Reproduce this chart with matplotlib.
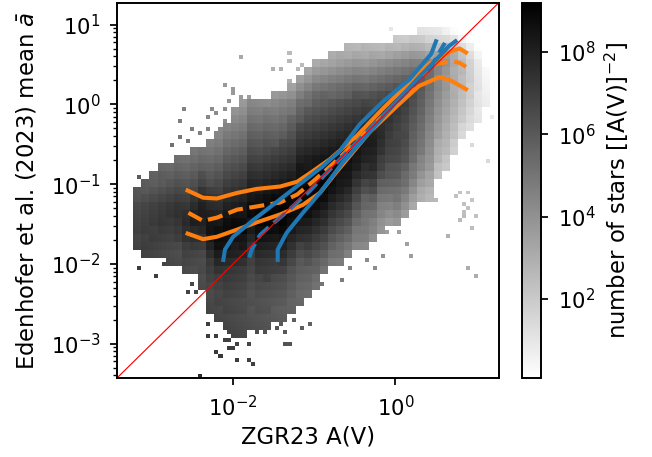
import numpy as np
import matplotlib
matplotlib.use("Agg")
import matplotlib.pyplot as plt
from matplotlib.colors import LogNorm
from matplotlib.ticker import NullLocator

plt.rcParams['font.size'] = 11.7
plt.rcParams['xtick.labelsize'] = 10.9
plt.rcParams['ytick.labelsize'] = 10.9

# histogram, one entry per 0.1 dex column, left to right
# each string goes down the column from row col_top, one char = 0.25 dex of star count
col_top = [0, 0, 23, 22, 21, 20, 20, 19, 19, 18, 18, 17, 16, 15, 13, 12, 12, 12, 12, 11, 11, 10, 9, 8,
           7, 7, 6, 6, 5, 5, 5, 5, 5, 5, 4, 4, 4, 3, 3, 3, 3, 3, 4, 4, 5, 8, 0]
col_levels = [
    "", "",
    "00111100",
    "0012222110",
    "00123332210",
    "011234443210",
    "0123455432100",
    "01234566543100",
    "012345677653210",
    "0123457899764210",
    "1235689aa986421100",
    "012345789abba864321000",
    "0123456789abccb975321100",
    "123456789abcddcb9754321100",
    "0123456789abcdeeca97543211000",
    "0123456789abcddeecb97543211000",
    "3456789abcdeeffdca86543211000",
    "3456789abcdeffggedb9764321100",
    "356789abcdefgghgfdb9765321100",
    "2456789bcdefghhhgfdb976432100",
    "356789bcdefghhiihgeca86432100",
    "24679abcdefghiiihgeca86432100",
    "3579abdefghiijjjihfdb86432100",
    "3579acdefghiijjkjihfdb9753210",
    "3579bcdefghijjkkkjigeca864310",
    "468acdefghijkkllkjhfdb97531",
    "4579bcefghijklllkjhfdb97531",
    "568acdfghijklllkjigeca86431",
    "4579bdeghijklmmlkjhfdb97531",
    "468aceghijklmmlkigeca86431",
    "568acegijklmmlkihec9865431",
    "579bdfhijklmmlkjhfda86431",
    "57acegijklllkjhgeb975421",
    "68bdfhjkllkjihgedb97531",
    "469cegikllkjiihgedb98642",
    "47adfhjllkjiihgfdba8642",
    "58begikkjihgfedca97531",
    "258behjjihgfedcb986421",
    "247aehhgfedcba98764310",
    "247bfeddcba98754310",
    "148cdcbba987654310",
    "036aa99887654310",
    "1478877654310",
    "024555443210",
    "0122221100",
    "00000",
    "",
]

# single stars scattered outside the main body (log10 x, log10 y)
single_logx = [-2.42, -2.22, -2.18, -1.94, -1.8, -1.75, -2.04, -1.99, -1.94, -1.8, -1.36, -1.32, -2.32, -2.22,
               -2.12, -2.04, -2.04, -1.89, -1.71, -1.61, -1.36, -1.18, -1.08, -1.47, -1.4, -1.8, -1.66, -2.32,
               -1.26, -2.98, -3.15, -3.12, -2.88, -2.75, -2.56, -2.47, -2.5, -2.42, -1.51, -1.39, -1.48, -1.14,
               -1.89, -1.33, -1.3, -1.52, -1.42, -1.14, -1.19, -1.33, -1.23, -1.14, -2.09, -1.99, -1.99, -2.04,
               -1.89, -1.8, -2.6, -2.27, -2.12, -2.65, -2.32, -2.22, -2.5, -2.42, -2.18, -2.65, -2.56, -2.32,
               -2.75, -2.1, -3.18, -0.81, -0.56, -0.05, -0.32,
               0.47, 0.76, 0.81, 0.9, 0.95, 0.85, 0.9, 0.85, 0.85, 0.81, 0.99, 0.95, 0.66, 0.15, 0.18, 0.05, 0.0,
               0.9, 0.99, -0.28, -0.58, -0.66, -0.91, -0.38, -0.15, -0.58, -0.1, 1.13, 0.95, 1.03, 1.18, 1.07]
single_logy = [-3.42, -3.12, -3.18, -3.23, -3.23, -3.28, -3.04, -3.08, -2.99, -2.99, -2.99, -2.99, -2.89, -2.89,
               -2.94, -2.94, -2.85, -2.85, -2.85, -2.85, -2.85, -2.79, -2.74, -2.79, -2.74, -2.74, -2.74, -2.74,
               -2.7, -2.18, -2.04, -1.89, -1.99, -1.99, -2.37, -2.37, -2.28, -2.08, -2.23, -2.18, -2.31, -2.11,
               0.59, 0.64, 0.54, 0.45, 0.45, 0.49, 0.45, 0.3, 0.3, 0.3, 0.25, 0.21, 0.15, 0.05,
               0.1, 0.1, -0.07, -0.07, -0.07, -0.22, -0.16, -0.13, -0.31, -0.36, -0.31, -0.42, -0.46, -0.31,
               -0.5, -0.23, -0.93, 0.64, 0.64, 0.92, 0.69,
               -1.22, -1.17, -1.13, -1.13, -1.22, -1.27, -1.32, -1.37, -1.42, -1.47, -1.42, -1.56, -1.66, -1.75, -1.89, -1.61, -1.46,
               -2.04, -2.14, -2.04, -2.04, -2.23, -2.27, -1.94, -1.89, -1.89, -1.61, -0.69, -0.53, -0.1, -0.15, 0.02]

# percentile and mean curves, log10 values
orange_hi_x = [-2.56, -2.37, -2.20, -1.95, -1.71, -1.42, -1.21, -1.02, -0.81, -0.48, -0.16, 0.13, 0.33, 0.45, 0.58, 0.70, 0.79, 0.87]
orange_hi_y = [-1.08, -1.17, -1.18, -1.11, -1.06, -1.03, -0.97, -0.84, -0.69, -0.40, -0.06, 0.23, 0.44, 0.53, 0.60, 0.67, 0.70, 0.65]
orange_mid_x = [-2.55, -2.37, -2.20, -1.95, -1.71, -1.42, -1.21, -1.02, -0.85, -0.69, -0.20, 0.17, 0.45, 0.58, 0.70, 0.79, 0.87]
orange_mid_y = [-1.36, -1.46, -1.42, -1.32, -1.28, -1.23, -1.13, -0.97, -0.82, -0.67, -0.19, 0.18, 0.49, 0.52, 0.54, 0.52, 0.47]
orange_lo_x = [-2.56, -2.37, -2.20, -1.95, -1.71, -1.42, -1.14, -0.93, -0.72, -0.32, 0.01, 0.29, 0.54, 0.66, 0.87]
orange_lo_y = [-1.62, -1.69, -1.66, -1.57, -1.48, -1.38, -1.26, -1.11, -0.84, -0.35, -0.03, 0.23, 0.34, 0.31, 0.19]
blue_hi_x = [-2.12, -2.10, -2.00, -1.75, -1.42, -1.14, -0.90, -0.69, -0.44, -0.16, 0.17, 0.33, 0.44, 0.50]
blue_hi_y = [-1.95, -1.82, -1.66, -1.45, -1.19, -0.97, -0.78, -0.59, -0.25, 0.03, 0.31, 0.50, 0.63, 0.79]
blue_mid_x = [-1.80, -1.77, -1.67, -1.55, -1.34, -1.06, -0.81, -0.32, 0.17, 0.44, 0.54, 0.61]
blue_mid_y = [-1.92, -1.82, -1.64, -1.53, -1.35, -1.09, -0.82, -0.31, 0.19, 0.47, 0.65, 0.77]
blue_lo_x = [-1.45, -1.45, -1.34, -1.14, -0.93, -0.65, -0.32, 0.01, 0.29, 0.54, 0.66, 0.74]
blue_lo_y = [-1.95, -1.82, -1.61, -1.36, -1.11, -0.73, -0.35, 0.03, 0.34, 0.60, 0.73, 0.79]

log_min, log_max = -3.43, 1.27
level_chars = "0123456789abcdefghijklmn"

# coarse columns split in two so the cells come out the same size as in the picture
n_fine = 94
counts = np.full((n_fine, n_fine), np.nan)
for c, (top, levels) in enumerate(zip(col_top, col_levels)):
    for k, ch in enumerate(levels):
        row = 46 - (top + k)
        counts[2 * row:2 * row + 2, 2 * c:2 * c + 2] = 10 ** (level_chars.index(ch) * 0.25)

edges = np.linspace(log_min, log_max, n_fine + 1)
for lx, ly in zip(single_logx, single_logy):
    i = int((lx - log_min) / (log_max - log_min) * n_fine)
    j = int((ly - log_min) / (log_max - log_min) * n_fine)
    if np.isnan(counts[j, i]):
        counts[j, i] = 1.0

# number of stars per unit A(V) squared
bins = 10 ** edges
widths = np.diff(bins)
density = counts / np.outer(widths, widths)

fig = plt.figure(figsize=(652 / 140, 457 / 140), dpi=140)
ax = fig.add_axes([117 / 652, 79 / 457, 381.5 / 652, 375 / 457])
cax = fig.add_axes([522 / 652, 79 / 457, 19 / 652, 375 / 457])

mesh = ax.pcolormesh(bins, bins, density, cmap='gray_r', norm=LogNorm(vmin=1.2, vmax=1.55e9))

def curve(xs, ys, color, style='-'):
    ax.plot(10 ** np.array(xs), 10 ** np.array(ys), color=color, ls=style, lw=2.1)

curve(orange_hi_x, orange_hi_y, 'tab:orange')
curve(orange_mid_x, orange_mid_y, 'tab:orange', '--')
curve(orange_lo_x, orange_lo_y, 'tab:orange')
curve(blue_hi_x, blue_hi_y, 'tab:blue')
curve(blue_mid_x, blue_mid_y, 'tab:blue', '--')
curve(blue_lo_x, blue_lo_y, 'tab:blue')
ax.plot(bins[[0, -1]], bins[[0, -1]], color='red', lw=0.6)

ax.set_xscale('log')
ax.set_yscale('log')
ax.set_xlim(bins[0], bins[-1])
ax.set_ylim(bins[0], bins[-1])
ax.set_xticks([1e-2, 1])
ax.xaxis.set_minor_locator(NullLocator())
ax.tick_params(which='major', length=3.6, width=0.9, pad=4.9)
ax.tick_params(which='minor', length=2.1, width=0.7)
for s in ax.spines.values():
    s.set_linewidth(1)
ax.set_xlabel('ZGR23 A(V)', labelpad=3)
ax.set_ylabel(r'Edenhofer et al. (2023) mean $\bar{a}$')
ax.yaxis.set_label_coords(-0.207, 0.5)

cb = fig.colorbar(mesh, cax=cax)
cb.set_label('number of stars [[A(V)]$^{-2}$]', labelpad=4)
cb.set_ticks([1e2, 1e4, 1e6, 1e8])
cb.ax.yaxis.set_minor_locator(NullLocator())
cb.ax.tick_params(length=3.6, width=0.9, pad=4.9)
cb.outline.set_linewidth(1)

fig.savefig('out.png', dpi=140)
